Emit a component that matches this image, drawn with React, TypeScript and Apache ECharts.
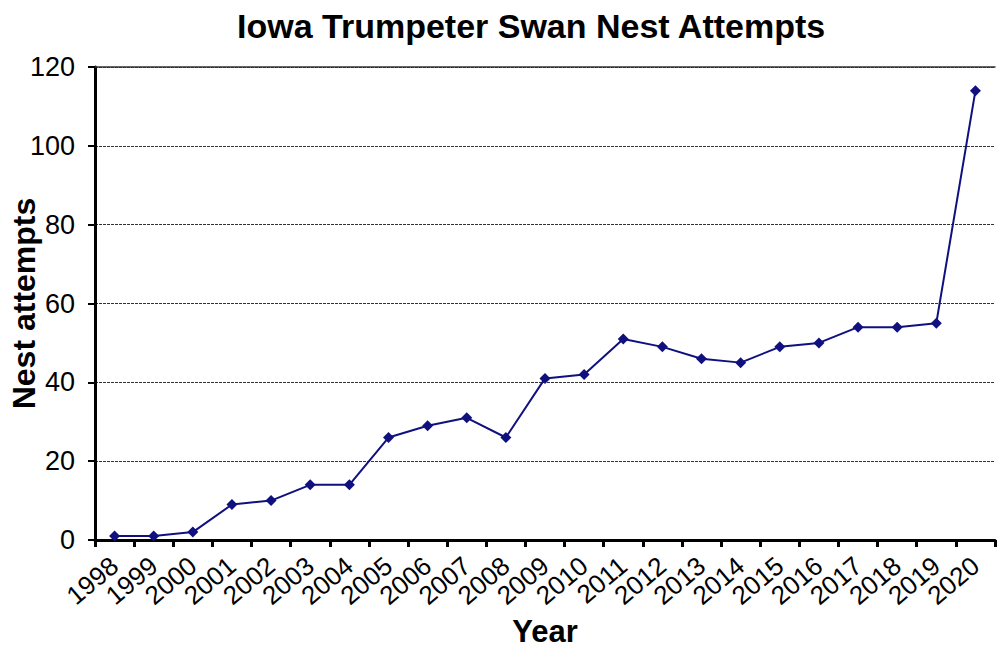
import React, { useEffect, useRef } from "react";
import * as echarts from "echarts";

const years = ["1998","1999","2000","2001","2002","2003","2004","2005","2006","2007","2008","2009","2010","2011","2012","2013","2014","2015","2016","2017","2018","2019","2020"];
const nestAttempts = [1, 1, 2, 9, 10, 14, 14, 26, 29, 31, 26, 41, 42, 51, 49, 46, 45, 49, 50, 54, 54, 55, 114];
const titleText = "Iowa Trumpeter Swan Nest Attempts";
const xName = "Year";
const yName = "Nest attempts";

const FONT = "'Liberation Sans', Arial, sans-serif";

export default function App() {
  const ref = useRef<HTMLDivElement>(null);
  useEffect(() => {
    if (!ref.current) return;
    const chart = echarts.init(ref.current, undefined, { renderer: "svg" });
    chart.setOption({
      animation: false,
      backgroundColor: "#ffffff",
      title: {
        text: titleText,
        left: 232,
        top: 4,
        textStyle: { fontFamily: FONT, fontWeight: "bold", fontSize: 34, color: "#000" },
      },
      grid: { left: 95, right: 2, top: 67, bottom: 112, containLabel: false, outerBoundsMode: "none" },
      xAxis: [
        {
          type: "category",
          data: years,
          boundaryGap: true,
          name: xName,
          nameLocation: "middle",
          nameGap: 76,
          nameMoveOverlap: false,
          nameTextStyle: { fontFamily: FONT, fontWeight: "bold", fontSize: 31, color: "#000" },
          axisLine: { lineStyle: { color: "#000", width: 3 } },
          axisTick: { show: true, length: 7, interval: 0, lineStyle: { color: "#000", width: 3 } },
          axisLabel: {
            interval: 0,
            rotate: 40,
            margin: 22,
            fontFamily: FONT,
            fontSize: 26,
            color: "#000",
          },
          splitLine: { show: false },
        },
        {
          type: "category",
          data: years,
          position: "top",
          axisLine: { show: true, lineStyle: { color: "#333", width: 1.5 } },
          axisTick: { show: false },
          axisLabel: { show: false },
          splitLine: { show: false },
        },
      ],
      yAxis: {
        type: "value",
        min: 0,
        max: 120,
        interval: 20,
        name: yName,
        nameLocation: "middle",
        nameGap: 55,
        nameMoveOverlap: false,
        nameTextStyle: { fontFamily: FONT, fontWeight: "bold", fontSize: 32, color: "#000" },
        axisLine: { show: true, lineStyle: { color: "#000", width: 3 } },
        axisTick: { show: true, length: 7, lineStyle: { color: "#000", width: 2 } },
        axisLabel: { fontFamily: FONT, fontSize: 27, color: "#000", margin: 20 },
        splitLine: { show: true, lineStyle: { color: "#333", width: 1, type: [3, 1] } },
      },
      series: [
        {
          type: "line",
          data: nestAttempts,
          xAxisIndex: 0,
          symbol: "diamond",
          symbolSize: 11,
          itemStyle: { color: "#10107f" },
          lineStyle: { color: "#10107f", width: 2 },
        },
      ],
    });
    return () => chart.dispose();
  }, []);
  return (
    <div
      ref={ref}
      style={{ position: "fixed", left: 0, top: 0, width: 997, height: 652 }}
    />
  );
}
